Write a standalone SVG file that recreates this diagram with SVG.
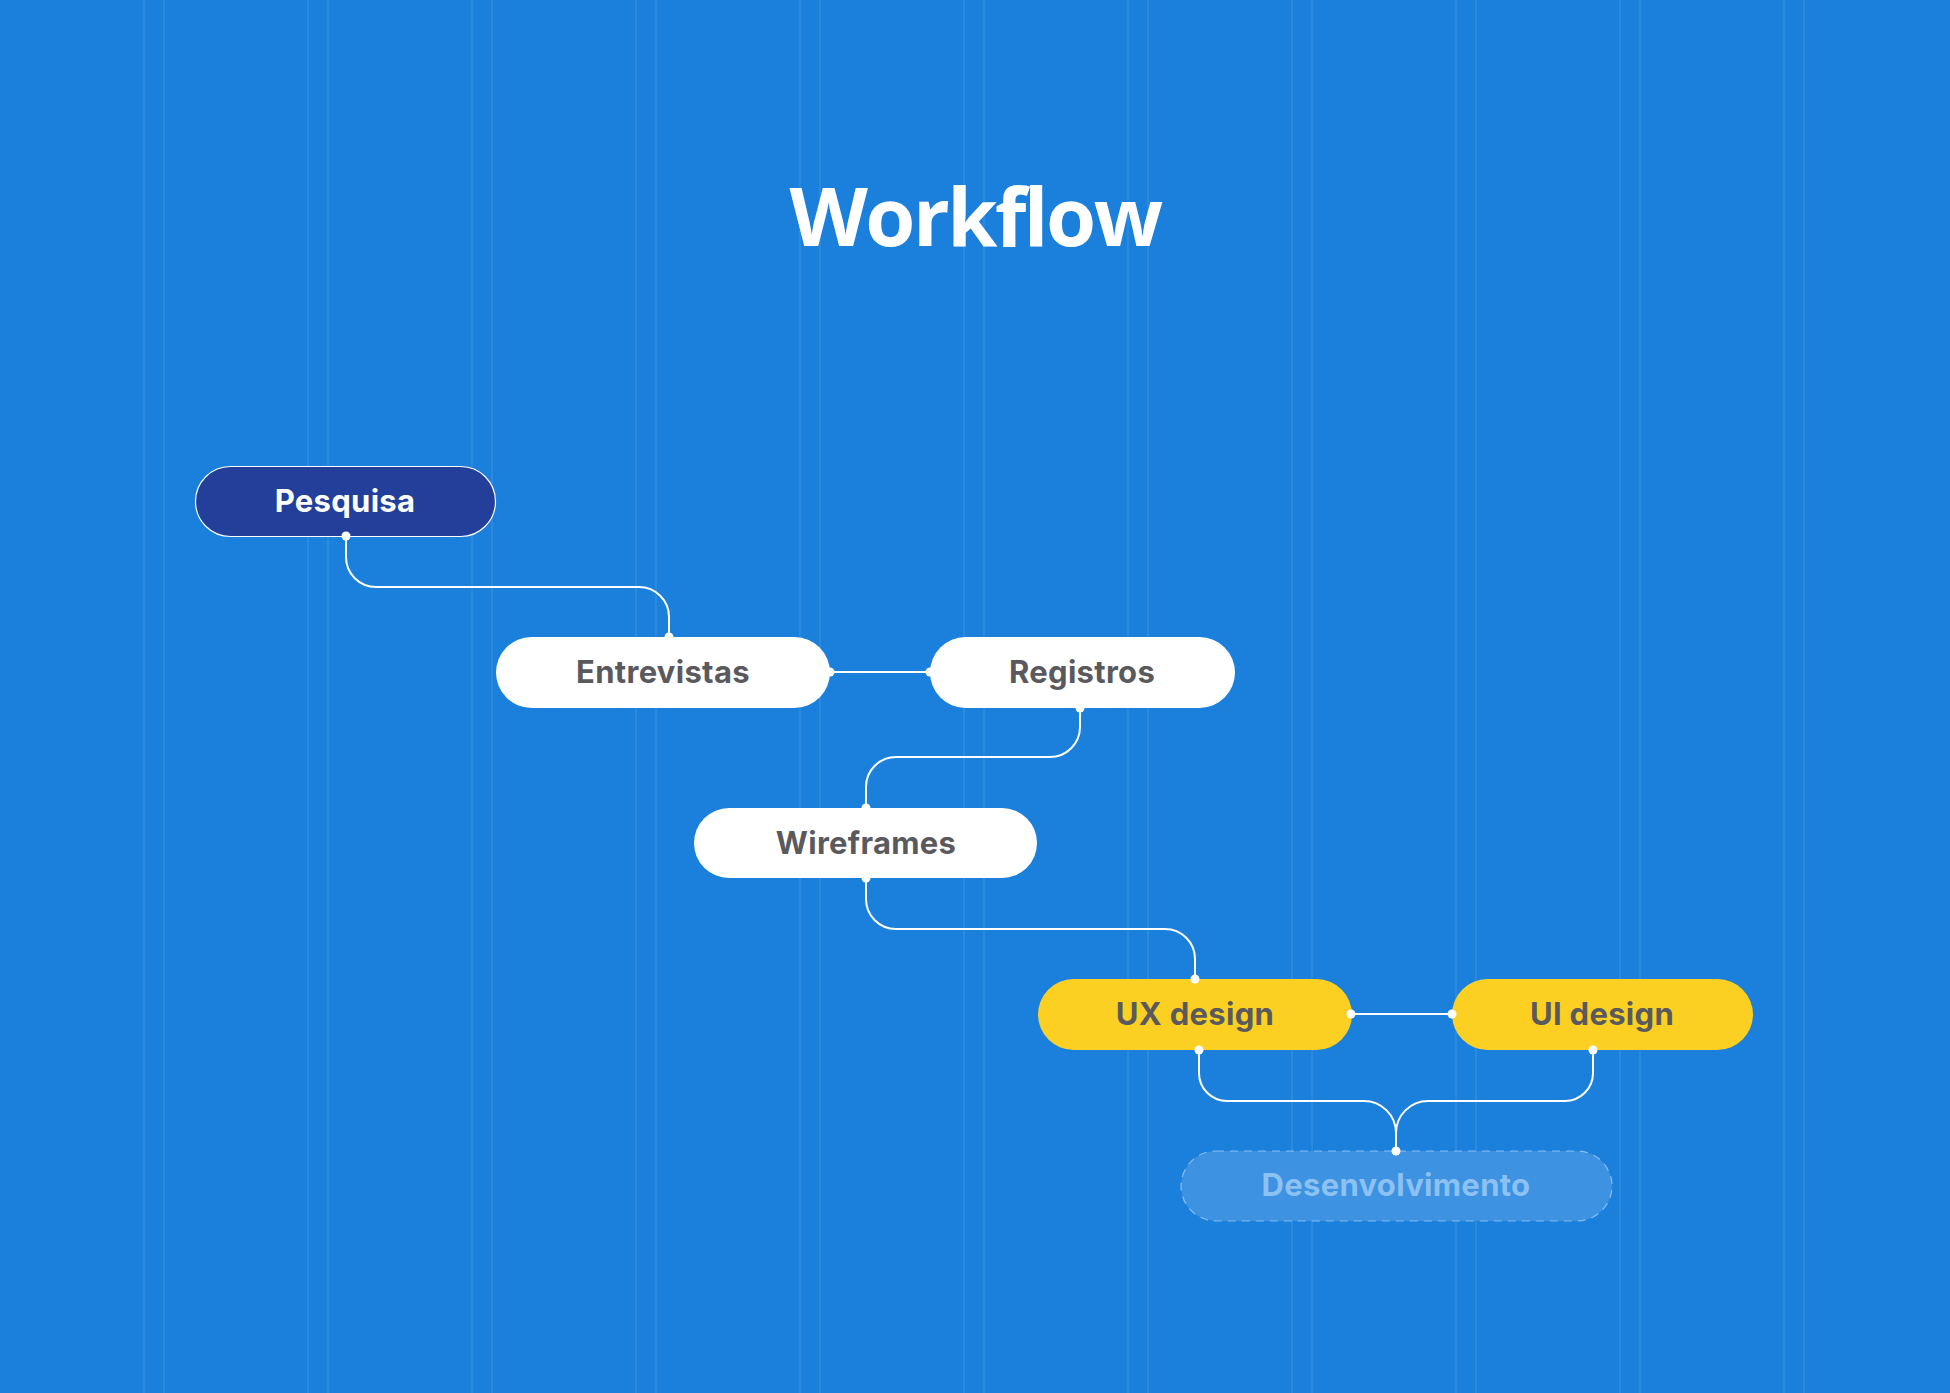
<svg xmlns="http://www.w3.org/2000/svg" width="1950" height="1393" viewBox="0 0 1950 1393">
<style>
.grid line{stroke:#ffffff;stroke-opacity:0.12;stroke-width:1.2}
.lbl{font-family:Inter,"Open Sans","Liberation Sans",sans-serif;font-weight:700;font-size:31px;text-anchor:middle;letter-spacing:0.3px}
.dark{fill:#5a5a5e}
.conn path,.conn line{fill:none;stroke:#ffffff;stroke-width:2}
.dot{fill:#ffffff}
</style>
<rect x="0" y="0" width="1950" height="1393" fill="#1b80dc"/>
<g class="grid">
<line x1="144" y1="0" x2="144" y2="1393"/><line x1="164" y1="0" x2="164" y2="1393"/>
<line x1="308" y1="0" x2="308" y2="1393"/><line x1="328" y1="0" x2="328" y2="1393"/>
<line x1="472" y1="0" x2="472" y2="1393"/><line x1="492" y1="0" x2="492" y2="1393"/>
<line x1="636" y1="0" x2="636" y2="1393"/><line x1="656" y1="0" x2="656" y2="1393"/>
<line x1="800" y1="0" x2="800" y2="1393"/><line x1="820" y1="0" x2="820" y2="1393"/>
<line x1="964" y1="0" x2="964" y2="1393"/><line x1="984" y1="0" x2="984" y2="1393"/>
<line x1="1128" y1="0" x2="1128" y2="1393"/><line x1="1148" y1="0" x2="1148" y2="1393"/>
<line x1="1292" y1="0" x2="1292" y2="1393"/><line x1="1312" y1="0" x2="1312" y2="1393"/>
<line x1="1456" y1="0" x2="1456" y2="1393"/><line x1="1476" y1="0" x2="1476" y2="1393"/>
<line x1="1620" y1="0" x2="1620" y2="1393"/><line x1="1640" y1="0" x2="1640" y2="1393"/>
<line x1="1784" y1="0" x2="1784" y2="1393"/><line x1="1804" y1="0" x2="1804" y2="1393"/>
</g>
<text id="title" x="975" y="246" font-family="'Open Sans','Liberation Sans',sans-serif" font-weight="700" font-size="81" fill="#ffffff" text-anchor="middle" letter-spacing="-2.5">Workflow</text>
<g class="conn" id="connectors">
<path d="M346,536 V557 A30,30 0 0 0 376,587 H639 A30,30 0 0 1 669,617 V637"/>
<line x1="830" y1="672" x2="930" y2="672"/>
<path d="M1080,708 V727 A30,30 0 0 1 1050,757 H896 A30,30 0 0 0 866,787 V808"/>
<path d="M866,878 V899 A30,30 0 0 0 896,929 H1165 A30,30 0 0 1 1195,959 V979"/>
<line x1="1351" y1="1014" x2="1452" y2="1014"/>
<path d="M1199,1050 V1073 A28,28 0 0 0 1227,1101 H1364 A32,32 0 0 1 1396,1133 V1151"/>
<path d="M1593,1050 V1073 A28,28 0 0 1 1565,1101 H1428 A32,32 0 0 0 1396,1133"/>
</g>
<g id="node-pesquisa">
<rect x="195.5" y="466.5" width="300" height="70" rx="35" fill="#233f9a" stroke="#ffffff" stroke-width="1.2"/>
<text class="lbl" x="345" y="512" fill="#ffffff">Pesquisa</text>
</g>
<g id="node-entrevistas">
<rect x="496" y="637" width="334" height="71" rx="35.5" fill="#ffffff"/>
<text class="lbl dark" x="663" y="683">Entrevistas</text>
</g>
<g id="node-registros">
<rect x="930" y="637" width="305" height="71" rx="35.5" fill="#ffffff"/>
<text class="lbl dark" x="1082" y="683">Registros</text>
</g>
<g id="node-wireframes">
<rect x="694" y="808" width="343" height="70" rx="35" fill="#ffffff"/>
<text class="lbl dark" x="866" y="854">Wireframes</text>
</g>
<g id="node-ux">
<rect x="1038" y="979" width="314" height="71" rx="35.5" fill="#fcd023"/>
<text class="lbl dark" x="1195" y="1025">UX design</text>
</g>
<g id="node-ui">
<rect x="1452" y="979" width="301" height="71" rx="35.5" fill="#fcd023"/>
<text class="lbl dark" x="1602" y="1025">UI design</text>
</g>
<g id="node-desenvolvimento">
<rect x="1181" y="1151" width="431" height="70" rx="35" fill="#3d92e2" stroke="#ffffff" stroke-opacity="0.45" stroke-width="1.2" stroke-dasharray="8 6"/>
<text class="lbl" x="1396" y="1196" fill="#8cc1f2">Desenvolvimento</text>
</g>
<g id="dots">
<circle class="dot" cx="346" cy="536" r="4.5"/>
<circle class="dot" cx="669" cy="637" r="4.5"/>
<circle class="dot" cx="830" cy="672" r="4.5"/>
<circle class="dot" cx="930" cy="672" r="4.5"/>
<circle class="dot" cx="1080" cy="708" r="4.5"/>
<circle class="dot" cx="866" cy="808" r="4.5"/>
<circle class="dot" cx="866" cy="878" r="4.5"/>
<circle class="dot" cx="1195" cy="979" r="4.5"/>
<circle class="dot" cx="1351" cy="1014" r="4.5"/>
<circle class="dot" cx="1452" cy="1014" r="4.5"/>
<circle class="dot" cx="1199" cy="1050" r="4.5"/>
<circle class="dot" cx="1593" cy="1050" r="4.5"/>
<circle class="dot" cx="1396" cy="1151" r="4.5"/>
</g>
</svg>
